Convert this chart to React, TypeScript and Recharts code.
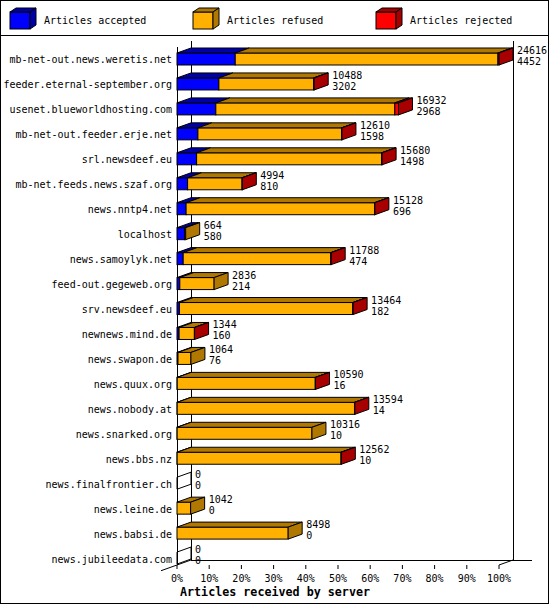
import React from 'react';
import { BarChart, Bar, XAxis, YAxis } from 'recharts';

const hosts = [
  'mb-net-out.news.weretis.net',
  'feeder.eternal-september.org',
  'usenet.blueworldhosting.com',
  'mb-net-out.feeder.erje.net',
  'srl.newsdeef.eu',
  'mb-net.feeds.news.szaf.org',
  'news.nntp4.net',
  'localhost',
  'news.samoylyk.net',
  'feed-out.gegeweb.org',
  'srv.newsdeef.eu',
  'newnews.mind.de',
  'news.swapon.de',
  'news.quux.org',
  'news.nobody.at',
  'news.snarked.org',
  'news.bbs.nz',
  'news.finalfrontier.ch',
  'news.leine.de',
  'news.babsi.de',
  'news.jubileedata.com',
];
const offered = [24616, 10488, 16932, 12610, 15680, 4994, 15128, 664, 11788, 2836, 13464, 1344, 1064, 10590, 13594, 10316, 12562, 0, 1042, 8498, 0];
const accepted = [4452, 3202, 2968, 1598, 1498, 810, 696, 580, 474, 214, 182, 160, 76, 16, 14, 10, 10, 0, 0, 0, 0];
const rejected = [80, 40, 280, 30, 40, 20, 30, 0, 30, 0, 25, 15, 0, 20, 25, 0, 20, 0, 0, 0, 0];
const tickLabels = ['0%', '10%', '20%', '30%', '40%', '50%', '60%', '70%', '80%', '90%', '100%'];
const seriesNames = ['Articles accepted', 'Articles refused', 'Articles rejected'];
const axisTitle = 'Articles received by server';

const KEYS = ['accepted', 'refused', 'rejected'];
const data = hosts.map((host, i) => ({
  host,
  accepted: accepted[i],
  refused: offered[i] - accepted[i] - rejected[i],
  rejected: rejected[i],
  offered: offered[i],
}));
const maxOffered = Math.max(...offered);
const ticks = tickLabels.map((_, i) => (maxOffered * i) / 10);

const FRONT = ['#0000ff', '#ffb000', '#ff0000'];
const SHADE = ['#0000a8', '#b07800', '#a80000'];
const DX = 14;
const DY = 5;
const FONT = '"DejaVu Sans Mono", "Liberation Mono", monospace';

const makeShape = (si: number) => (props: any) => {
  const { x, y, height, payload } = props;
  const w = Math.max(0, props.width || 0);
  const vals = KEYS.map((k) => payload[k] as number);
  let last = -1;
  vals.forEach((v, i) => {
    if (v > 0) last = i;
  });
  const els: any[] = [];
  const top = `${x},${y} ${x + DX},${y - DY} ${x + w + DX},${y - DY} ${x + w},${y}`;
  const side = `${x + w},${y} ${x + w + DX},${y - DY} ${x + w + DX},${y + height - DY} ${x + w},${y + height}`;
  if (last === -1) {
    if (si === 2) {
      els.push(<polygon key="s" points={side} fill="none" stroke="#000" strokeWidth={1} />);
    }
  } else if (vals[si] > 0) {
    els.push(<rect key="f" x={x} y={y} width={w} height={height} fill={FRONT[si]} stroke="#000" strokeWidth={1} />);
    els.push(<polygon key="t" points={top} fill={SHADE[si]} stroke="#000" strokeWidth={1} />);
    if (si === last) {
      els.push(<polygon key="s" points={side} fill={SHADE[si]} stroke="#000" strokeWidth={1} />);
    }
  }
  if (si === 2) {
    const cy = y + height / 2;
    const lx = x + w + DX + 4;
    els.push(
      <text key="l1" x={lx} y={cy - 5} fontFamily={FONT} fontSize={10} fill="#000">
        {payload.offered}
      </text>
    );
    els.push(
      <text key="l2" x={lx} y={cy + 6} fontFamily={FONT} fontSize={10} fill="#000">
        {payload.accepted}
      </text>
    );
  }
  return <g>{els}</g>;
};

const renderXTick = (p: any) => {
  const idx = Math.round((p.payload.value / maxOffered) * 10);
  return (
    <g>
      <line x1={p.x} x2={p.x} y1={565} y2={569} stroke="#000" strokeWidth={1} />
      <text x={p.x} y={582} textAnchor="middle" fontFamily={FONT} fontSize={10} fill="#000">
        {tickLabels[idx]}
      </text>
    </g>
  );
};

const renderYTick = (p: any) => (
  <text x={172} y={p.y + 4} textAnchor="end" fontFamily={FONT} fontSize={10} fill="#000">
    {p.payload.value}
  </text>
);

const PL = 177;
const PR = 499;
const PT = 47;
const FLOOR = 565;

const LegendBox = ({ x, i }: { x: number; i: number }) => {
  const bx = x, by = 12, bw = 20, bh = 17, dx = 6, dy = 4;
  return (
    <g>
      <rect x={bx} y={by} width={bw} height={bh} fill={FRONT[i]} stroke="#000" />
      <polygon points={`${bx},${by} ${bx + dx},${by - dy} ${bx + bw + dx},${by - dy} ${bx + bw},${by}`} fill={SHADE[i]} stroke="#000" />
      <polygon points={`${bx + bw},${by} ${bx + bw + dx},${by - dy} ${bx + bw + dx},${by + bh - dy} ${bx + bw},${by + bh}`} fill={SHADE[i]} stroke="#000" />
      <text x={bx + 34} y={24} fontFamily={FONT} fontSize={10} fill="#000">
        {seriesNames[i]}
      </text>
    </g>
  );
};

export default function App() {
  return (
    <div style={{ position: 'absolute', left: 0, top: 0, width: 550, height: 605, background: '#fff' }}>
      <svg width={550} height={605} style={{ position: 'absolute', left: 0, top: 0 }}>
        <rect x={0.5} y={0.5} width={548} height={603} fill="#fff" stroke="#000" />
        <line x1={0} x2={549} y1={35.5} y2={35.5} stroke="#000" />
        {[10, 193, 376].map((lx, i) => (
          <LegendBox key={i} x={lx} i={i} />
        ))}
        <g stroke="#000" strokeWidth={1}>
          <line x1={PL + 0.5} x2={PL + 0.5} y1={PT} y2={FLOOR} />
          <line x1={PL + DX + 0.5} x2={PL + DX + 0.5} y1={41} y2={FLOOR - DY} />
          <line x1={PR + DX + 0.5} x2={PR + DX + 0.5} y1={41} y2={FLOOR - DY} />
          <line x1={PL + DX} x2={532} y1={FLOOR - DY + 0.5} y2={FLOOR - DY + 0.5} />
          <line x1={PL - 16} y1={FLOOR + (16 * DY) / DX} x2={PL + DX} y2={FLOOR - DY} />
          <line x1={PR} y1={FLOOR} x2={PR + DX} y2={FLOOR - DY} />
        </g>
        <text x={180} y={596} fontFamily={FONT} fontSize={11.7} fontWeight="bold" fill="#000">
          {axisTitle}
        </text>
      </svg>
      <div style={{ position: 'absolute', left: 0, top: 0 }}>
        <BarChart
          width={550}
          height={605}
          data={data}
          layout="vertical"
          margin={{ top: PT, right: 550 - PR, bottom: 0, left: 0 }}
          barSize={12}
        >
          <XAxis
            type="number"
            domain={[0, maxOffered]}
            ticks={ticks}
            interval={0}
            axisLine={false}
            tickLine={false}
            height={34}
            tick={renderXTick}
          />
          <YAxis
            type="category"
            dataKey="host"
            width={PL}
            interval={0}
            axisLine={false}
            tickLine={false}
            tick={renderYTick}
          />
          {KEYS.map((k, i) => (
            <Bar key={k} dataKey={k} stackId="s" fill={FRONT[i]} shape={makeShape(i)} isAnimationActive={false} />
          ))}
        </BarChart>
      </div>
    </div>
  );
}
